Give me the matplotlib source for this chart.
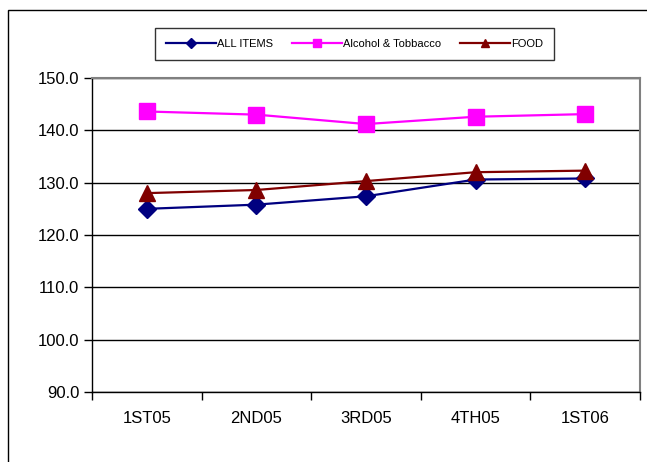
import matplotlib
matplotlib.use("Agg")
import matplotlib.pyplot as plt
from matplotlib.patches import Rectangle

categories = ["1ST05", "2ND05", "3RD05", "4TH05", "1ST06"]
all_items = [125.0, 125.8, 127.4, 130.6, 130.8]
alcohol = [143.6, 143.0, 141.2, 142.6, 143.1]
food = [128.0, 128.6, 130.3, 132.0, 132.3]
yticks = [90, 100, 110, 120, 130, 140, 150]

plt.rcParams['font.family'] = ['Liberation Sans', 'DejaVu Sans']

fig = plt.figure(figsize=(6.47, 4.62), dpi=100)
fig.patches.append(Rectangle((7.5/647, -0.1), 2, 1.1 - 9.5/462, transform=fig.transFigure,
                             fill=False, edgecolor='black', linewidth=1.0))
ax = fig.add_axes([92/647, 1 - 392/462, (640 - 92)/647, (392 - 78)/462])

x = list(range(len(categories)))
ax.plot(x, all_items, color='#000080', linewidth=1.6, marker='D', markersize=9,
        label='ALL ITEMS', zorder=3)
ax.plot(x, alcohol, color='#FF00FF', linewidth=1.6, marker='s', markersize=11,
        label='Alcohol & Tobbacco', zorder=3)
ax.plot(x, food, color='#800000', linewidth=1.6, marker='^', markersize=11,
        label='FOOD', zorder=4)

ax.set_xlim(-0.5, 4.5)
ax.set_ylim(90, 150)
ax.set_yticks(yticks)
ax.set_yticklabels([f"{v:.1f}" for v in yticks], fontsize=12)
ax.set_xticks([i - 0.5 for i in range(len(categories) + 1)])
ax.set_xticklabels([])
ax.set_xticks(x, minor=True)
ax.set_xticklabels(categories, minor=True, fontsize=12)
ax.tick_params(axis='x', which='minor', length=0, pad=14)
ax.tick_params(axis='x', which='major', direction='out', length=6, width=1)
ax.tick_params(axis='y', direction='out', length=6, width=1, pad=3)
ax.grid(axis='y', color='black', linewidth=1.0)
ax.set_axisbelow(True)
for s in ['top', 'right']:
    ax.spines[s].set_color('#808080')
    ax.spines[s].set_linewidth(1.5)
for s in ['left', 'bottom']:
    ax.spines[s].set_color('black')
    ax.spines[s].set_linewidth(1.0)

leg = fig.legend(loc='center', bbox_to_anchor=(354.5/647, 1 - 44/462), ncol=3,
                 fontsize=8, frameon=True, fancybox=False, edgecolor='black',
                 handlelength=4.5, handletextpad=0.1, columnspacing=1.7,
                 markerscale=0.55, borderpad=1.0)
leg.get_frame().set_linewidth(1.0)

fig.savefig("out.png", dpi=100)
